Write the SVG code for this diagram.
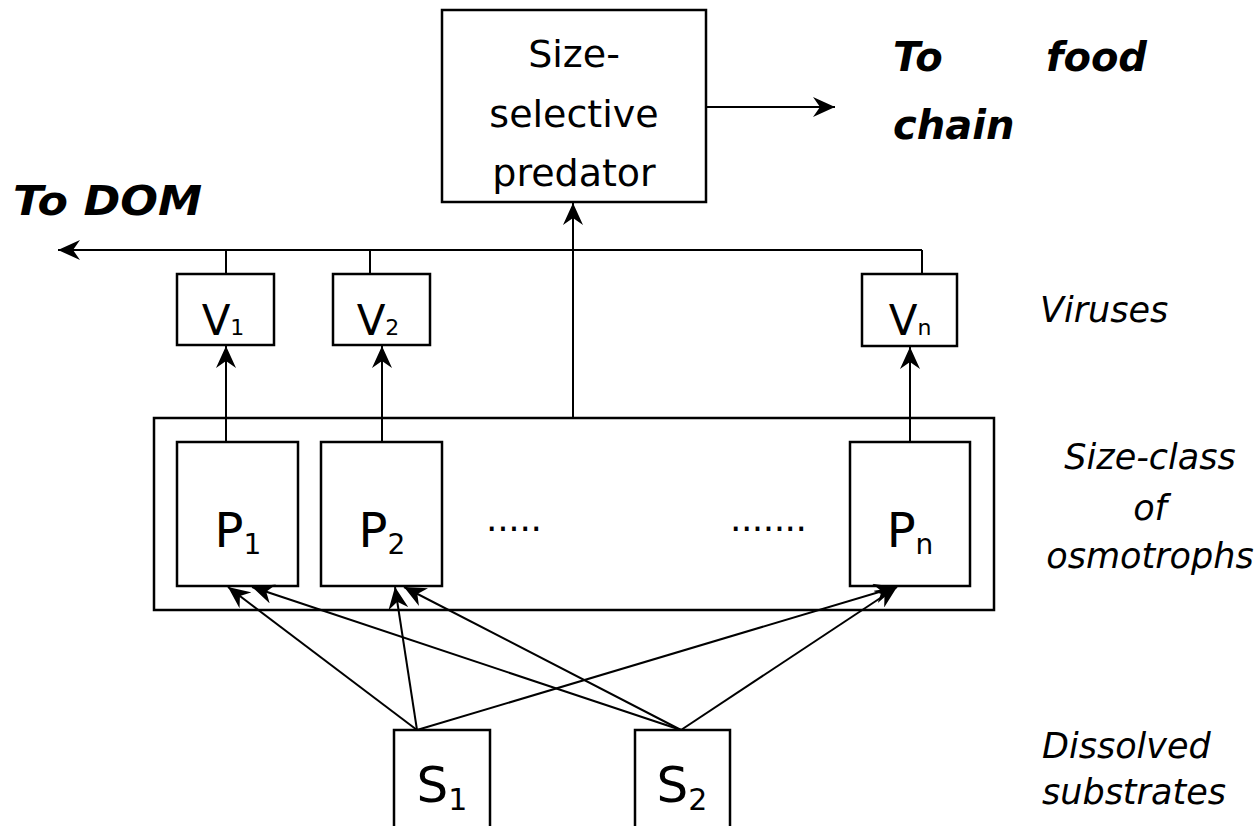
<svg xmlns="http://www.w3.org/2000/svg" width="1259" height="826" viewBox="0 0 1259 826">
<style>
.box{fill:#fff;stroke:#000;stroke-width:2.5}
.frame{fill:none;stroke:#000;stroke-width:2.5}
.ln{fill:none;stroke:#000;stroke-width:2}
.lbl{font-family:"DejaVu Sans","Liberation Sans",sans-serif;fill:#000}
.it{font-family:"DejaVu Sans","Liberation Sans",sans-serif;font-style:italic;fill:#000;font-size:35px}
.bi{font-family:"DejaVu Sans","Liberation Sans",sans-serif;font-style:italic;font-weight:bold;fill:#000;font-size:40px}
</style>
<defs>
<marker id="ah" viewBox="0 0 22 20" refX="22" refY="10" markerWidth="22" markerHeight="20" markerUnits="userSpaceOnUse" orient="auto">
<path d="M22,10 L0,0 L7,10 L0,20 Z" fill="#000"/>
</marker>
</defs>
<rect width="1259" height="826" fill="#fff"/>
<g id="predator">
<rect class="box" x="442" y="10" width="264" height="192"/>
<text class="lbl" font-size="38" text-anchor="middle" x="574" y="67">Size-</text>
<text class="lbl" font-size="38" text-anchor="middle" x="574" y="127">selective</text>
<text class="lbl" font-size="38" text-anchor="middle" x="574" y="186">predator</text>
</g>
<g id="to-food-chain">
<text class="bi" x="893" y="71">To</text>
<text class="bi" x="1147" y="71" text-anchor="end">food</text>
<text class="bi" x="893" y="139">chain</text>
</g>
<g id="to-dom">
<text class="bi" x="13" y="215" textLength="189" lengthAdjust="spacingAndGlyphs">To DOM</text>
</g>
<g id="v1">
<rect class="box" x="177" y="274" width="97" height="71"/>
<text class="lbl" font-size="42" text-anchor="middle" x="223" y="335">V<tspan font-size="22">1</tspan></text>
</g>
<g id="v2">
<rect class="box" x="333" y="274" width="97" height="71"/>
<text class="lbl" font-size="42" text-anchor="middle" x="378" y="335">V<tspan font-size="22">2</tspan></text>
</g>
<g id="vn">
<rect class="box" x="862" y="274" width="95" height="72"/>
<text class="lbl" font-size="42" text-anchor="middle" x="910" y="335">V<tspan font-size="22">n</tspan></text>
</g>
<g id="viruses-label">
<text class="it" x="1040" y="322">Viruses</text>
</g>
<g id="osmotrophs">
<rect class="frame" x="154" y="418" width="840" height="192"/>
</g>
<g id="p1">
<rect class="box" x="177" y="442" width="121" height="144"/>
<text class="lbl" font-size="48" text-anchor="middle" x="238" y="547">P<tspan font-size="28" dy="7">1</tspan></text>
</g>
<g id="p2">
<rect class="box" x="321" y="442" width="121" height="144"/>
<text class="lbl" font-size="48" text-anchor="middle" x="382" y="547">P<tspan font-size="28" dy="7">2</tspan></text>
</g>
<g id="pn">
<rect class="box" x="850" y="442" width="120" height="144"/>
<text class="lbl" font-size="48" text-anchor="middle" x="910" y="547">P<tspan font-size="28" dy="7">n</tspan></text>
</g>
<g id="dots">
<text class="lbl" font-size="36" x="486" y="531" textLength="56" lengthAdjust="spacing">.....</text>
<text class="lbl" font-size="36" x="730" y="531" textLength="77" lengthAdjust="spacing">.......</text>
</g>
<g id="size-class-label">
<text class="it" text-anchor="middle" x="1150" y="469">Size-class</text>
<text class="it" text-anchor="middle" x="1150" y="520">of</text>
<text class="it" text-anchor="middle" x="1150" y="568">osmotrophs</text>
</g>
<g id="s1">
<rect class="box" x="394" y="730" width="96" height="98"/>
<text class="lbl" font-size="50" text-anchor="middle" x="442" y="802">S<tspan font-size="30" dy="8">1</tspan></text>
</g>
<g id="s2">
<rect class="box" x="635" y="730" width="95" height="98"/>
<text class="lbl" font-size="50" text-anchor="middle" x="682" y="802">S<tspan font-size="30" dy="8">2</tspan></text>
</g>
<g id="substrates-label">
<text class="it" x="1042" y="758">Dissolved</text>
<text class="it" x="1042" y="804">substrates</text>
</g>
<g id="connectors">
<line class="ln" x1="706" y1="107" x2="835" y2="107" marker-end="url(#ah)"/>
<line class="ln" x1="922" y1="250" x2="58" y2="250" marker-end="url(#ah)"/>
<line class="ln" x1="226" y1="274" x2="226" y2="250"/>
<line class="ln" x1="370" y1="274" x2="370" y2="250"/>
<line class="ln" x1="922" y1="274" x2="922" y2="250"/>
<line class="ln" x1="573" y1="418" x2="573" y2="203" marker-end="url(#ah)"/>
<line class="ln" x1="226" y1="442" x2="226" y2="346" marker-end="url(#ah)"/>
<line class="ln" x1="382" y1="442" x2="382" y2="346" marker-end="url(#ah)"/>
<line class="ln" x1="910" y1="442" x2="910" y2="347" marker-end="url(#ah)"/>
<line class="ln" x1="417" y1="730" x2="228" y2="587" marker-end="url(#ah)"/>
<line class="ln" x1="681" y1="730" x2="252" y2="587" marker-end="url(#ah)"/>
<line class="ln" x1="417" y1="730" x2="395" y2="587" marker-end="url(#ah)"/>
<line class="ln" x1="681" y1="730" x2="404" y2="587" marker-end="url(#ah)"/>
<line class="ln" x1="417" y1="730" x2="896" y2="587" marker-end="url(#ah)"/>
<line class="ln" x1="681" y1="730" x2="897" y2="587" marker-end="url(#ah)"/>
</g>
</svg>
